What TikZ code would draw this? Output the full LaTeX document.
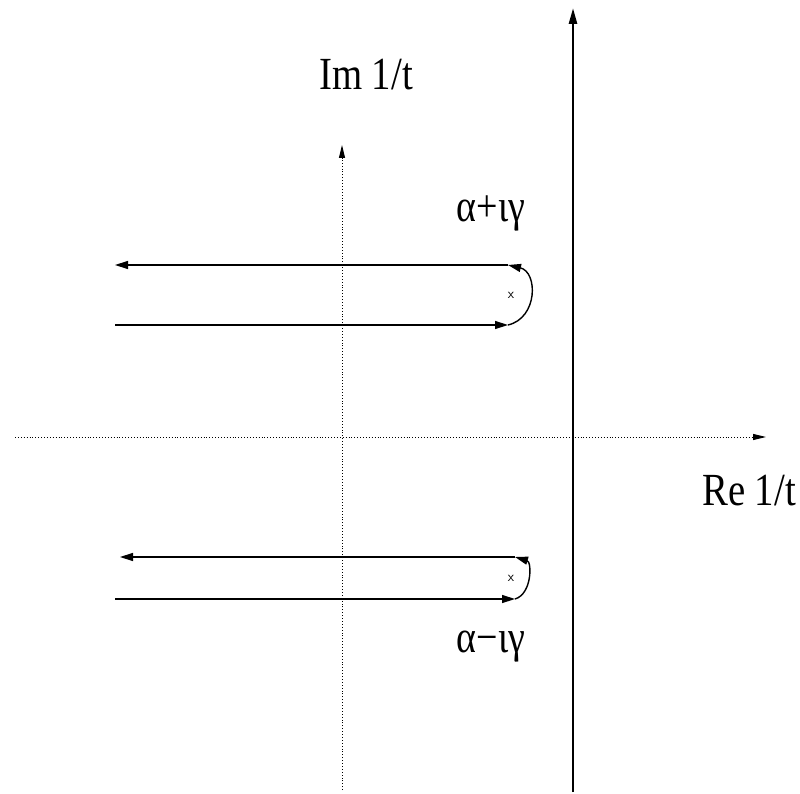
\documentclass[tikz,border=0pt]{standalone}
\usepackage{fontspec}
\setmainfont{Liberation Serif}
\usetikzlibrary{arrows.meta}
\newcommand{\tallt}[1]{\scalebox{0.97}[1.15]{#1}}
\begin{document}
\begin{tikzpicture}[x=1pt,y=-1pt,
  lbl/.style={inner sep=0pt, font=\fontsize{40}{48}\selectfont},
  glbl/.style={inner sep=0pt, font=\fontsize{38}{44}\selectfont},
  axis/.style={line width=0.9pt, dotted, -{Triangle[length=13pt,width=6pt]}},
  cont/.style={line width=1.4pt, -{Triangle[length=13pt,width=8pt]}},
  pole/.style={inner sep=0pt, font=\sffamily\fontsize{14}{15}\selectfont}]
\useasboundingbox (0,0) rectangle (800,794);
% coordinates
\coordinate (hx0) at (15,437);
\coordinate (hx1) at (766,437);
\coordinate (vx0) at (342,790);
\coordinate (vx1) at (342,145);
\coordinate (rb0) at (573,792);
\coordinate (rb1) at (573,8);
\coordinate (ut1) at (508,265);
\coordinate (ut0) at (115,265);
\coordinate (ub0) at (115,325);
\coordinate (ub1) at (508,325);
\coordinate (lt1) at (515,557);
\coordinate (lt0) at (120,557);
\coordinate (lb0) at (115,599);
\coordinate (lb1) at (515,599);
% axes
\draw[axis] (hx0) -- (hx1);
\draw[axis] (vx0) -- (vx1);
\draw[line width=2.6pt, -{Triangle[length=16pt,width=8pt]}] (rb0) -- (rb1);
% upper contour
\draw[cont] (ut1) -- (ut0);
\draw[cont] (ub0) -- (ub1);
\draw[cont] (ub1) .. controls (538,318) and (538,272) .. (ut1);
% lower contour
\draw[cont] (lt1) -- (lt0);
\draw[cont] (lb0) -- (lb1);
\draw[cont] (lb1) .. controls (532,594) and (532,562) .. (lt1);
% poles
\node[pole] (p1) at (511,295) {x};
\node[pole] (p2) at (511,578) {x};
% labels
\node[lbl, anchor=base] (im) at (366,90) {\tallt{Im 1/t}};
\node[lbl, anchor=base] (re) at (749,505) {\tallt{Re 1/t}};
\node[glbl, anchor=base] (ap) at (491,222) {\scalebox{1}[1.2]{α+ιγ}};
\node[glbl, anchor=base] (am) at (491,652) {\scalebox{1}[1.2]{α−ιγ}};
\end{tikzpicture}
\end{document}
